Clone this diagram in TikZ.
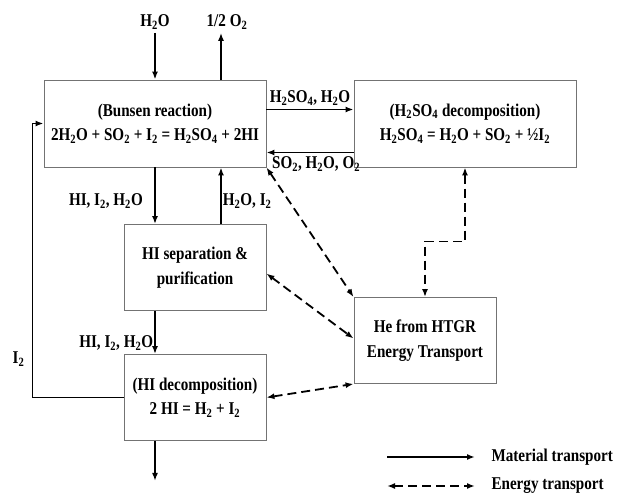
\documentclass[tikz,border=0pt]{standalone}
\usepackage{fontspec}
\setmainfont{Liberation Serif}[FakeStretch=0.84]
\usetikzlibrary{positioning, arrows.meta}
\tikzset{
	process/.style={draw=black!55, line width=0.9pt, rectangle, inner sep=2pt, minimum width=222pt, minimum height=87pt, align=center},
	subprocess/.style={draw=black!55, line width=0.9pt, rectangle, inner sep=2pt, minimum width=142pt, minimum height=86pt, align=center},
	% energy lines
	energy/.style={dash pattern=on 9pt off 5pt, <->},
}
\newcommand{\sbs}[1]{\textsubscript{#1}}

\begin{document}
\begin{tikzpicture}[x=1pt, y=-1pt, node distance=130pt, font=\bfseries\fontsize{18}{24.5}\selectfont]
		\useasboundingbox (0,0) rectangle (630,495);
		
		\node (bunsen) [process] at (155,123.5) {(Bunsen reaction)\\2H\sbs{2}O + SO\sbs{2} + I\sbs{2} = H\sbs{2}SO\sbs{4} + 2HI};
		\node (sulf) [process, right of=bunsen, xshift=180pt] {(H\sbs{2}SO\sbs{4} decomposition)\\H\sbs{2}SO\sbs{4} = H\sbs{2}O + SO\sbs{2} + ½I\sbs{2}};
		\node (sep) [subprocess, below of=bunsen, xshift=40pt, yshift=-14pt] {HI separation \&\\purification};
		\node (decomp) [subprocess, below of=sep] {(HI decomposition)\\2 HI = H\sbs{2} + I\sbs{2}};
		\node (htgr) [subprocess, right of=sep, xshift=100pt, yshift=-73pt] {He from HTGR\\Energy Transport};
		
		\node (h2o) at (155,22) {H\sbs{2}O};
		\node (o2) at (227,22) {1/2 O\sbs{2}};
		\path (decomp.south -| bunsen.south) ++(0,40) coordinate (prod);
		
		%\node (legend) ...
		\node (mat) [anchor=west] at (488,457) {Material transport};
		\node (ene) [anchor=west] at (488,486) {Energy transport};
		
		\begin{scope}[line width=1.8pt, black, ->, >={Latex[length=8pt, width=6pt]}]
			\draw (h2o) -- (bunsen.north);
			\draw ([xshift=66pt]bunsen.north) -- ([xshift=66pt]bunsen.north |- o2.south);
			\draw ([yshift=14pt]bunsen.east) -- node [above] {H\sbs{2}SO\sbs{4}, H\sbs{2}O} ([yshift=14pt]sulf.west);
			\draw ([yshift=-29pt]sulf.west) -- node [below, pos=0.43] {SO\sbs{2}, H\sbs{2}O, O\sbs{2}} ([yshift=-29pt]bunsen.east);
			
			\draw (bunsen.south) -- node [left, pos=0.6, xshift=-8pt] {HI, I\sbs{2}, H\sbs{2}O} (bunsen.south |- sep.north);
			\draw ([xshift=26pt]sep.north) -- node [right, pos=0.4, inner sep=1pt] {H\sbs{2}O, I\sbs{2}} ([xshift=66pt]bunsen.south);
			\draw (sep.south -| bunsen.south) -- node [left, pos=0.75, inner sep=1pt] {HI, I\sbs{2}, H\sbs{2}O} (decomp.north -| bunsen.south);
			\draw (decomp.south -| bunsen.south) -- (prod);
			\draw (decomp.west) -| node [left, pos=0.57, xshift=-4pt] {I\sbs{2}} ([xshift=-11pt]bunsen.west) -- (bunsen.west);
			
			\draw ([xshift=-101pt]mat.west) -- ([xshift=-13pt]mat.west);
		\end{scope}
		
		\begin{scope}[line width=1.8pt, black, energy, >={Latex[length=8pt, width=6pt]}]
			\draw (bunsen.south east) -- (htgr.north west);
			\draw ([yshift=-6pt]sep.east) -- ([yshift=2pt]htgr.west);
			\draw (decomp.east) -- (htgr.south west);
			\draw (sulf.south) -- ++(0,74) -| (htgr.north);
			
			\draw ([xshift=-101pt]ene.west) -- ([xshift=-13pt]ene.west);
		\end{scope}
	\end{tikzpicture}
\end{document}
